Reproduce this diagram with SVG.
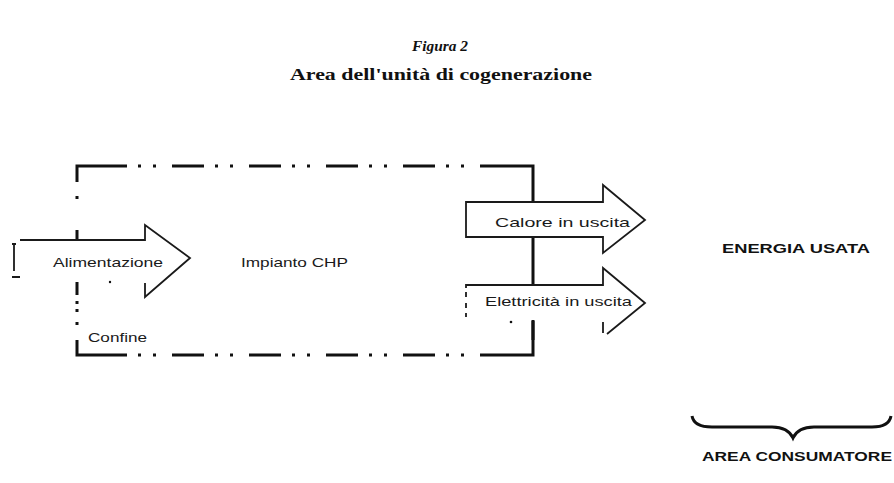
<svg xmlns="http://www.w3.org/2000/svg" width="894" height="483" viewBox="0 0 894 483">
<style>
.ttl{font-family:"Liberation Serif","Times New Roman",serif;fill:#111;text-anchor:middle}
.lbl{font-family:"Liberation Sans",Arial,sans-serif;font-size:13px;fill:#1a1a1a}
.bold{font-family:"Liberation Sans",Arial,sans-serif;font-weight:bold;font-size:13px;fill:#111}
.bnd{stroke:#111;stroke-width:3;fill:none}
.dd{stroke:#111;stroke-width:3;fill:none;stroke-dasharray:32 11 3 12 3 16;stroke-dashoffset:32}
.arr{stroke:#1a1a1a;stroke-width:1.8;fill:#fff;stroke-linejoin:miter}
.edge{stroke:#1a1a1a;stroke-width:1.8;fill:none}
</style>
<rect width="894" height="483" fill="#fff"/>
<g id="title">
<text class="ttl" x="440" y="51" font-size="15" font-style="italic" font-weight="bold" textLength="56" lengthAdjust="spacingAndGlyphs">Figura 2</text>
<text class="ttl" x="441" y="80" font-size="17" font-weight="bold" textLength="302" lengthAdjust="spacingAndGlyphs">Area dell'unità di cogenerazione</text>
</g>
<g id="boundary">
<path class="bnd" d="M77,182 V166 H127"/>
<path class="dd" d="M127,166 H480"/>
<path class="bnd" d="M480,166 H533 V355 H482"/>
<path class="dd" d="M127,355 H482"/>
<path class="bnd" d="M127,355 H77 V340"/>
<path class="bnd" d="M77,196 V199 M77,230 V241 M77,282 V295 M77,301 V304 M77,309 V312 M77,322 V325"/>
</g>
<g id="boundary-label">
<text class="lbl" x="88" y="342" textLength="59" lengthAdjust="spacingAndGlyphs">Confine</text>
</g>
<g id="plant">
<text class="lbl" x="241" y="267" textLength="107" lengthAdjust="spacingAndGlyphs">Impianto CHP</text>
</g>
<g id="input-arrow">
<polygon points="12,241 145,241 145,225 190,258 145,297 145,281 12,281" fill="#fff" stroke="none"/>
<polyline class="edge" points="20,240 145,240 145,225 190,258 145,297 145,283"/>
<path class="edge" d="M14,244 V271 M12,244 H16 M12,277 H20"/>
<circle cx="110" cy="282" r="1.2" fill="#111"/>
<text class="lbl" x="53" y="267" textLength="110" lengthAdjust="spacingAndGlyphs">Alimentazione</text>
</g>
<g id="heat-arrow">
<polygon class="arr" points="466,202 603,202 603,185 645,220 603,253 603,237 466,237"/>
<text class="lbl" x="495" y="227" textLength="135" lengthAdjust="spacingAndGlyphs">Calore in uscita</text>
</g>
<g id="power-arrow">
<polygon points="466,285 603,285 603,268 645,303 603,337 603,321 466,321" fill="#fff" stroke="none"/>
<polyline class="edge" points="466,288 466,285 603,285 603,268 645,303 607,334"/>
<path class="edge" d="M466,292 V297 M466,303 V308 M466,313 V317 M603,322 V333"/>
<path class="bnd" d="M533,320 V340" stroke-width="2.5"/>
<circle cx="511" cy="322" r="1.3" fill="#111"/>
<text class="lbl" x="485" y="306" textLength="147" lengthAdjust="spacingAndGlyphs">Elettricità in uscita</text>
</g>
<g id="energy-used">
<text class="bold" x="722" y="253" textLength="148" lengthAdjust="spacingAndGlyphs">ENERGIA USATA</text>
</g>
<g id="consumer-area">
<path d="M692,416 Q694,427 712,427 H772 Q788,427 793,438 Q798,427 814,427 H872 Q889,427 891,416" stroke="#111" stroke-width="3" fill="none"/>
<text class="bold" x="702" y="461" textLength="190" lengthAdjust="spacingAndGlyphs">AREA CONSUMATORE</text>
</g>
</svg>
